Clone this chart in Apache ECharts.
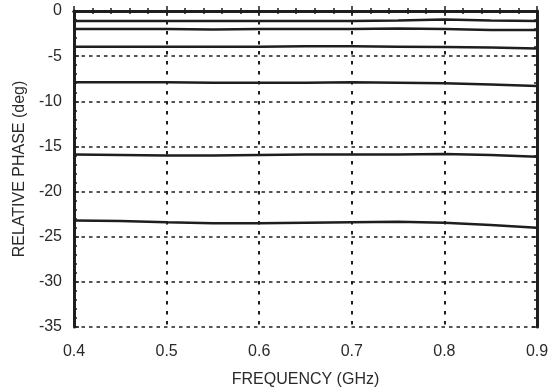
<!DOCTYPE html>
<html>
<head>
<meta charset="utf-8">
<script src="https://cdn.jsdelivr.net/npm/echarts@6/dist/echarts.min.js"></script>
<style>
  html, body { margin: 0; padding: 0; background: #fff; }
  #chart { width: 552px; height: 391px; }
</style>
</head>
<body>
<div id="chart"></div>
<script>
// frequency samples (GHz)
const freq = [0.4, 0.45, 0.5, 0.55, 0.6, 0.65, 0.7, 0.75, 0.8, 0.85, 0.9]

// relative phase curves (deg), one per phase state
const phase1 = [-1.1, -1.1, -1.1, -1.1, -1.1, -1.1, -1.1, -1.05, -0.95, -1.05, -1.1]
const phase2 = [-2.0, -2.0, -2.0, -2.05, -2.0, -2.0, -2.0, -1.95, -2.0, -2.1, -2.1]
const phase3 = [-3.95, -3.95, -3.95, -3.95, -3.95, -3.9, -3.9, -3.95, -4.0, -4.05, -4.15]
const phase4 = [-7.9, -7.9, -7.9, -7.95, -7.95, -7.95, -7.9, -7.95, -8.0, -8.15, -8.3]
const phase5 = [-15.9, -15.95, -16.0, -16.0, -15.95, -15.9, -15.9, -15.9, -15.85, -15.95, -16.15]
const phase6 = [-23.2, -23.25, -23.4, -23.5, -23.5, -23.45, -23.4, -23.35, -23.45, -23.7, -24.0]

const curves = [phase1, phase2, phase3, phase4, phase5, phase6]

const ink = '#1e1e1e'
const textColor = '#2a2a2a'
const font = 'Liberation Sans, Arial, sans-serif'

const chart = echarts.init(document.getElementById('chart'))

function frameAxis(extra) {
  return Object.assign({
    type: 'value',
    axisLine: { show: true, lineStyle: { color: ink, width: 3 } },
    axisTick: { show: true, inside: true, length: 5, lineStyle: { color: ink, width: 1.5 } },
    minorTick: { show: true, splitNumber: 5, length: 3, lineStyle: { color: ink, width: 1.5 } },
    splitLine: { show: false },
    axisLabel: { show: false },
  }, extra)
}

const option = {
  animation: false,
  grid: { left: 74, right: 15, top: 11, bottom: 64, outerBoundsMode: 'none' },
  xAxis: [
    frameAxis({
      min: 0.4, max: 0.9, interval: 0.1,
      name: 'FREQUENCY (GHz)',
      nameLocation: 'middle',
      nameGap: 45,
      nameTextStyle: { color: textColor, fontSize: 16, fontFamily: font },
      axisLabel: {
        show: true, margin: 17, color: textColor, fontSize: 16, fontFamily: font,
        formatter: v => v.toFixed(1),
      },
      splitLine: { show: true, lineStyle: { color: ink, width: 2, type: [3.5, 6.5] } },
    }),
    frameAxis({ min: 0.4, max: 0.9, interval: 0.1, position: 'top' }),
  ],
  yAxis: [
    frameAxis({
      min: -35, max: 0, interval: 5,
      name: 'RELATIVE PHASE (deg)',
      nameLocation: 'middle',
      nameGap: 46,
      nameTextStyle: { color: textColor, fontSize: 16, fontFamily: font },
      axisLabel: { show: true, margin: 12, color: textColor, fontSize: 16, fontFamily: font },
      splitLine: { show: true, lineStyle: { color: ink, width: 1.5, type: [3.5, 4] } },
    }),
    frameAxis({ min: -35, max: 0, interval: 5, position: 'right' }),
  ],
  series: curves.map(c => ({
    type: 'line',
    data: freq.map((f, i) => [f, c[i]]),
    showSymbol: false,
    lineStyle: { color: ink, width: 2.5 },
    z: 3,
  })),
}

chart.setOption(option)
</script>
</body>
</html>
